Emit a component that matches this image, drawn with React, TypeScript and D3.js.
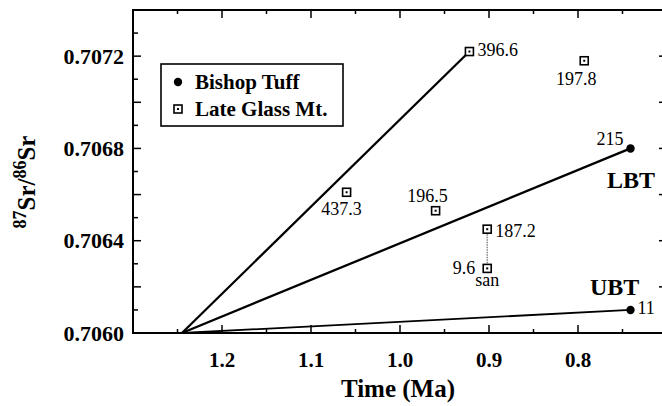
import React from 'react';
import * as d3 from 'd3';

// Bishop Tuff (filled circles)
const bishopLabels = ['215', '11'];
const bishopTime = [0.741, 0.741];
const bishopSr = [0.7068, 0.7061];

// Late Glass Mt. (boxed squares)
const glassLabels = ['396.6', '197.8', '437.3', '196.5', '187.2', '9.6'];
const glassTime = [0.922, 0.793, 1.06, 0.96, 0.902, 0.902];
const glassSr = [0.70722, 0.70718, 0.70661, 0.70653, 0.70645, 0.70628];

// common origin of the isochron-like lines
const originTime = 1.245;
const originSr = 0.706;

const xTicks = [1.2, 1.1, 1.0, 0.9, 0.8];
const yTicks = [0.706, 0.7064, 0.7068, 0.7072];

const width = 662;
const height = 406;
const left = 133;
const right = 667;
const top = 10;
const bottom = 333;
const font = '"Liberation Serif", "Times New Roman", serif';

// where each number sits relative to its point: [dx, dy, anchor]
const labelPlace: Record<string, [number, number, string]> = {
  '396.6': [8, 4, 'start'],
  '197.8': [-8, 24, 'middle'],
  '437.3': [-5, 23, 'middle'],
  '196.5': [-8, -9, 'middle'],
  '187.2': [8, 8, 'start'],
  '9.6': [-12, 6, 'end'],
  '215': [-7, -3, 'end'],
  '11': [7, 4, 'start'],
};

export default function App() {
  const x = d3.scaleLinear().domain([1.3, 0.7]).range([left, right]);
  const y = d3.scaleLinear().domain([0.706, 0.7074]).range([bottom, top]);

  const line = d3.line<[number, number]>().x(d => x(d[0])).y(d => y(d[1]));

  const trends: [number, number][][] = [
    [[originTime, originSr], [glassTime[0], glassSr[0]]],
    [[originTime, originSr], [bishopTime[0], bishopSr[0]]],
    [[originTime, originSr], [bishopTime[1], bishopSr[1]]],
  ];

  const xMinor = d3.range(13).map(i => 1.3 - i * 0.05);
  const yMinor = d3.range(15).map(i => 0.706 + i * 0.0001);

  const square = (cx: number, cy: number, key: string) => (
    <g key={key}>
      <rect x={cx - 4} y={cy - 4} width={8} height={8} fill="white" stroke="black" strokeWidth={1.6} />
      <rect x={cx - 1} y={cy - 1} width={2} height={2} fill="black" />
    </g>
  );

  return (
    <svg width={width} height={height} style={{ position: 'absolute', left: 0, top: 0, background: 'white' }}>
      {/* frame */}
      <rect x={left} y={top} width={right - left} height={bottom - top} fill="none" stroke="black" strokeWidth={2} />

      {/* x ticks, inward top and bottom */}
      {xMinor.map((t, i) => {
        const major = i % 2 === 0;
        const len = major ? 8 : 4;
        return (
          <g key={'xt' + i} stroke="black" strokeWidth={1.5}>
            <line x1={x(t)} x2={x(t)} y1={bottom} y2={bottom - len} />
            <line x1={x(t)} x2={x(t)} y1={top} y2={top + len} />
          </g>
        );
      })}
      {/* y ticks, inward left and right */}
      {yMinor.map((v, i) => {
        const major = i % 2 === 0;
        const len = major ? 8 : 5;
        return (
          <g key={'yt' + i} stroke="black" strokeWidth={1.5}>
            <line x1={left} x2={left + len} y1={y(v)} y2={y(v)} />
            <line x1={right} x2={right - len} y1={y(v)} y2={y(v)} />
          </g>
        );
      })}

      {xTicks.map(t => (
        <text key={'xl' + t} x={x(t)} y={367} textAnchor="middle" fontFamily={font} fontWeight="bold" fontSize={21}>
          {d3.format('.1f')(t)}
        </text>
      ))}
      {yTicks.map(v => (
        <text key={'yl' + v} x={124} y={y(v)} dy="0.35em" textAnchor="end" fontFamily={font} fontWeight="bold" fontSize={22}>
          {d3.format('.4f')(v)}
        </text>
      ))}

      <text x={398} y={397} textAnchor="middle" fontFamily={font} fontWeight="bold" fontSize={25}>
        Time (Ma)
      </text>
      <text transform="translate(35,182) rotate(-90)" textAnchor="middle" fontFamily={font} fontWeight="bold" fontSize={25}>
        <tspan fontSize={18} dy={-9}>87</tspan>
        <tspan dy={9}>Sr/</tspan>
        <tspan fontSize={18} dy={-9}>86</tspan>
        <tspan dy={9}>Sr</tspan>
      </text>

      {/* trend lines */}
      {trends.map((d, i) => (
        <path key={'tr' + i} d={line(d) || ''} fill="none" stroke="black" strokeWidth={i === 2 ? 1.8 : 2.3} />
      ))}
      {/* dotted tie between sanidine and glass */}
      <line
        x1={x(glassTime[4])} x2={x(glassTime[5])}
        y1={y(glassSr[4])} y2={y(glassSr[5])}
        stroke="#888" strokeWidth={1.5} strokeDasharray="1.5,1"
      />

      {/* points */}
      {glassLabels.map((lab, i) => square(x(glassTime[i]), y(glassSr[i]), 'g' + i))}
      {bishopLabels.map((lab, i) => (
        <circle key={'b' + i} cx={x(bishopTime[i])} cy={y(bishopSr[i])} r={4.2} fill="black" />
      ))}

      {/* point labels */}
      {glassLabels.concat(bishopLabels).map((lab, i) => {
        const t = i < glassLabels.length ? glassTime[i] : bishopTime[i - glassLabels.length];
        const v = i < glassLabels.length ? glassSr[i] : bishopSr[i - glassLabels.length];
        const [dx, dy, anchor] = labelPlace[lab];
        return (
          <text key={'pl' + lab} x={x(t) + dx} y={y(v) + dy} textAnchor={anchor} fontFamily={font} fontSize={18}>
            {lab}
          </text>
        );
      })}
      <text x={x(glassTime[5])} y={y(glassSr[5]) + 18} textAnchor="middle" fontFamily={font} fontSize={18}>
        san
      </text>

      <text x={607} y={188} fontFamily={font} fontWeight="bold" fontSize={24}>LBT</text>
      <text x={590} y={295} fontFamily={font} fontWeight="bold" fontSize={24}>UBT</text>

      {/* legend */}
      <rect x={161} y={64} width={182} height={62} fill="white" stroke="black" strokeWidth={1.6} />
      <circle cx={178} cy={82} r={4.2} fill="black" />
      <text x={195} y={89} fontFamily={font} fontWeight="bold" fontSize={21}>Bishop Tuff</text>
      {square(178, 109, 'leg')}
      <text x={195} y={116} fontFamily={font} fontWeight="bold" fontSize={21}>Late Glass Mt.</text>
    </svg>
  );
}
